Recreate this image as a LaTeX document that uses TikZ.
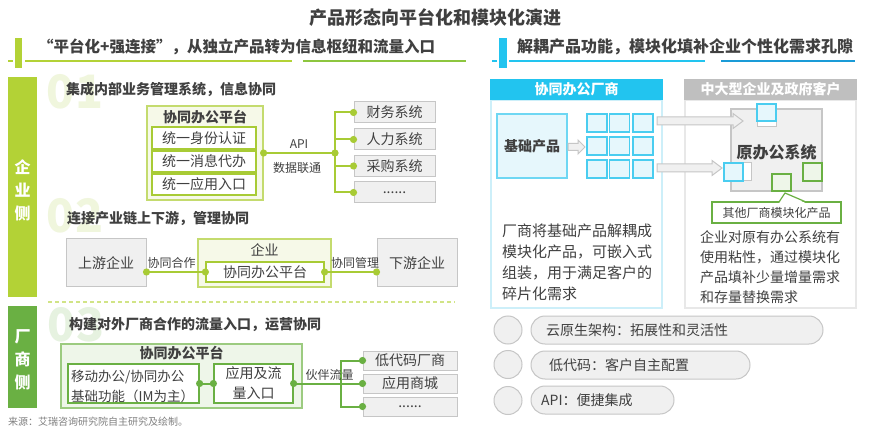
\documentclass[tikz,border=0pt]{standalone}
\usepackage{fontspec}
\setmainfont{Noto Sans CJK SC}
\usetikzlibrary{calc}
\definecolor{txt}{HTML}{404040}
\definecolor{ygreen}{HTML}{B3D236}
\definecolor{yline}{HTML}{A8CB35}
\definecolor{ylinedk}{HTML}{8DC63F}
\definecolor{ybord}{HTML}{C4DB6E}
\definecolor{ylight}{HTML}{F6F9E8}
\definecolor{dgreen}{HTML}{6AB043}
\definecolor{glight}{HTML}{EEF6E9}
\definecolor{gbord}{HTML}{9CCB80}
\definecolor{cyanc}{HTML}{22C4EF}
\definecolor{cyanl}{HTML}{E6F7FC}
\definecolor{cyanb}{HTML}{4ACDF0}
\definecolor{cyanpan}{HTML}{CDEFF9}
\definecolor{grayf}{HTML}{F0F0F0}
\definecolor{grayb}{HTML}{C6C6C6}
\definecolor{grayh}{HTML}{BFBFBF}
\definecolor{graypan}{HTML}{E8E8E8}
\definecolor{blued}{HTML}{1A9BD7}
\definecolor{numone}{HTML}{F0F6DD}
\definecolor{numthree}{HTML}{E6F2E0}
\definecolor{srcgray}{HTML}{808080}
\newcommand\fs[1]{\fontsize{#1}{#1}\selectfont}
\newcommand\blockarr[5]{% start, end, shaft half, head length, head half
  \draw[barrow] ($(#1)+(0,-#3)$) -- ($(#2)+(-#4,-#3)$) -- ($(#2)+(-#4,-#5)$) -- (#2)
   -- ($(#2)+(-#4,#5)$) -- ($(#2)+(-#4,#3)$) -- ($(#1)+(0,#3)$) -- cycle;}
\begin{document}
\begin{tikzpicture}[x=1pt,y=-1pt,
  every node/.style={inner sep=0pt, text=txt},
  gbox/.style={draw=grayb, fill=grayf, line width=1pt, font=\fs{14}},
  ybox/.style={draw=yline, fill=white, line width=1.2pt, font=\fs{14}},
  gnbox/.style={draw=dgreen, fill=white, line width=1.2pt},
  yl/.style={draw=yline, line width=2pt},
  gl/.style={draw=dgreen, line width=2pt},
  barrow/.style={draw=grayb, fill=grayf, line width=1pt},
  pill/.style={draw=grayb, fill=grayf, line width=1pt, rounded corners=14pt},
  cyansq/.style={draw=cyanb, fill=cyanl, line width=1.2pt},
  grnsq/.style={draw=dgreen, fill=glight, line width=1.2pt},
  numstyle/.style={font=\fs{46}\bfseries},
  lbl/.style={font=\fs{12}}
]
\useasboundingbox (0,0) rectangle (869,435);
\fill[white] (0,0) rectangle (869,435);

% ---------- title ----------
\node[font=\fs{18}\bfseries] (title) at (435,18) {产品形态向平台化和模块化演进};

% ---------- left sub heading ----------
\fill[ygreen] (15,38) rectangle (22,68);
\draw[ygreen, line width=2pt] (8,61) -- (13,61);
\draw[ygreen, line width=2pt] (25,61) -- (292,61);
\draw[ylinedk, line width=2pt] (303,61) -- (466,61);
\node[font=\fs{15.5}\bfseries, anchor=west] (subL) at (38,47) {“平台化+强连接”，从独立产品转为信息枢纽和流量入口};

% ---------- right sub heading ----------
\fill[cyanc] (499,38) rectangle (507,68);
\draw[cyanc, line width=2pt] (492,61) -- (497,61);
\draw[cyanc, line width=2pt] (509,61) -- (705,61);
\draw[blued, line width=2pt] (721,61) -- (855,61);
\node[font=\fs{16}\bfseries, anchor=west] (subR) at (517,47) {解耦产品功能，模块化填补企业个性化需求孔隙};

% ---------- side bars ----------
\node[fill=ygreen, minimum width=29pt, minimum height=220pt] (barE) at (22.5,187) {};
\node[font=\fontsize{16}{23}\selectfont\bfseries, text=white, align=center] (barEt) at (22.5,190) {企\\业\\侧};
\node[fill=dgreen, minimum width=29pt, minimum height=102pt] (barV) at (22.5,357) {};
\node[font=\fontsize{16}{23}\selectfont\bfseries, text=white, align=center] (barVt) at (22.5,360) {厂\\商\\侧};
\draw[ygreen!60, line width=1.5pt, dash pattern=on 4pt off 3pt] (48,302) -- (455,302);

% ---------- section 01 ----------
\node[numstyle, text=numone] (n01) at (75,92) {01};
\node[font=\fs{14}\bfseries, anchor=west] (h01) at (66,89) {集成内部业务管理系统，信息协同};
\node[draw=ybord, fill=ylight, line width=1.2pt, minimum width=116pt, minimum height=94pt] (plat01) at (205,153) {};
\node[font=\fs{14}\bfseries] (plat01t) at (205,117) {协同办公平台};
\node[ybox, minimum width=104pt, minimum height=22pt] (id1) at (204,138) {统一身份认证};
\node[ybox, minimum width=104pt, minimum height=21pt] (id2) at (204,161.5) {统一消息代办};
\node[ybox, minimum width=104pt, minimum height=21pt] (id3) at (204,184.5) {统一应用入口};
\node[gbox, minimum width=81pt, minimum height=21pt] (fin) at (394.5,112.5) {财务系统};
\node[gbox, minimum width=81pt, minimum height=21pt] (hr) at (394.5,139.5) {人力系统};
\node[gbox, minimum width=81pt, minimum height=21pt] (pur) at (394.5,166) {采购系统};
\node[gbox, minimum width=81pt, minimum height=21pt] (etc1) at (394.5,192.5) {......};
\node[lbl] (api) at (299,144) {API};
\node[lbl] (dl) at (297,168) {数据联通};
\coordinate (j1) at (335,153);
\draw[yl] (plat01.east) -- (j1);
\draw[yl] (fin.west) -| (j1) |- (etc1.west);
\draw[yl] (hr.west) -- (hr.west -| j1);
\draw[yl] (pur.west) -- (pur.west -| j1);
\foreach \p in {plat01.east, j1, fin.west, hr.west, pur.west, etc1.west}
  \fill[yline] (\p) circle[radius=3.6pt];

% ---------- section 02 ----------
\node[numstyle, text=numone] (n02) at (75,216) {02};
\node[font=\fs{14}\bfseries, anchor=west] (h02) at (67,219) {连接产业链上下游，管理协同};
\node[gbox, minimum width=80pt, minimum height=48pt] (up) at (106,263) {上游企业};
\node[draw=ybord, fill=ylight, line width=1.2pt, minimum width=133pt, minimum height=48pt] (ent) at (264.5,263) {};
\node[font=\fs{14}] (entt) at (264.5,250) {企业};
\node[ybox, minimum width=118pt, minimum height=20pt] (entp) at (265,272) {协同办公平台};
\node[gbox, minimum width=80pt, minimum height=48pt] (down) at (417,263) {下游企业};
\draw[yl] (up.east |- entp.west) -- (entp.west);
\draw[yl] (entp.east) -- (down.west |- entp.east);
\foreach \p in {up.east |- entp.west, entp.west, entp.east, down.west |- entp.east}
  \fill[yline] (\p) circle[radius=3.6pt];
\node[lbl] (coop) at (171.5,263) {协同合作};
\node[lbl] (mgmt) at (355,263) {协同管理};

% ---------- section 03 ----------
\node[numstyle, text=numthree] (n03) at (76,325) {03};
\node[font=\fs{14}\bfseries, anchor=west] (h03) at (69,325) {构建对外厂商合作的流量入口，运营协同};
\node[draw=gbord, fill=glight, line width=1.2pt, minimum width=241pt, minimum height=64pt] (plat03) at (181.5,376) {};
\node[font=\fs{14}\bfseries] (plat03t) at (181.5,353.5) {协同办公平台};
\node[gnbox, minimum width=131pt, minimum height=39pt] (m1) at (133.5,383.5) {};
\node[font=\fontsize{13.5}{20}\selectfont, align=left, anchor=west] (m1t) at (71,386) {移动办公/协同办公\\基础功能（IM为主）};
\node[gnbox, minimum width=79pt, minimum height=39pt, font=\fontsize{14}{20}\selectfont, align=center] (m2) at (253.5,383.5) {应用及流\\量入口};
\node[gbox, minimum width=94pt, minimum height=19pt] (v1) at (410,360.5) {低代码厂商};
\node[gbox, minimum width=94pt, minimum height=19pt] (v2) at (410,383.5) {应用商城};
\node[gbox, minimum width=94pt, minimum height=19pt] (v3) at (410,406.5) {......};
\coordinate (j3) at (341,383.5);
\draw[gl] (m1.east) -- (m2.west);
\draw[gl] (m2.east) -- (v2.west);
\draw[gl] (v1.west) -| (j3) |- (v3.west);
\foreach \p in {m1.east, m2.west, m2.east, v1.west, v2.west, v3.west}
  \fill[dgreen] (\p) circle[radius=3.6pt];
\node[lbl] (partner) at (329.5,375) {伙伴流量};
\node[font=\fs{10}, text=srcgray, anchor=west] (src) at (8,422) {来源：艾瑞咨询研究院自主研究及绘制。};

% ---------- right panel A ----------
\node[draw=cyanpan, line width=1.5pt, fill=white, minimum width=171pt, minimum height=208pt] (panA) at (576.5,204) {};
\node[fill=cyanc, minimum width=172.5pt, minimum height=21pt, text=white, font=\fs{14}\bfseries] (hdrA) at (576.5,89.5) {协同办公厂商};
\node[draw=cyanb!80, fill=cyanl, line width=1.2pt, minimum width=70pt, minimum height=64pt, font=\fs{14}\bfseries] (base) at (532,146) {基础产品};
\foreach \r/\yy in {1/123,2/146,3/169}
  \foreach \c/\xx in {1/597,2/619.75,3/643}
    \node[cyansq, minimum width=20pt, minimum height=18pt] (g\r\c) at (\xx,\yy) {};
\coordinate (sa1) at (568,147);
\coordinate (sa2) at (585,147);
\blockarr{sa1}{sa2}{3.5}{7}{7}
\node[font=\fontsize{15}{21}\selectfont, align=left, anchor=north west] (descA) at (502,224)
  {厂商将基础产品解耦成\\模块化产品，可嵌入式\\组装，用于满足客户的\\碎片化需求};

% ---------- right panel B ----------
\node[draw=graypan, line width=1.5pt, fill=white, minimum width=171pt, minimum height=208pt] (panB) at (770.5,204) {};
\node[fill=grayh, minimum width=172.5pt, minimum height=21pt, text=white, font=\fs{14}\bfseries] (hdrB) at (770.5,89.5) {中大型企业及政府客户};
\node[draw=grayb, fill=grayf, line width=1.2pt, minimum width=91pt, minimum height=82pt] (orig) at (776.5,150) {};
\node[font=\fs{16}\bfseries] (origt) at (776.5,152) {原办公系统};
\node[draw=grayb, fill=white, line width=1pt, minimum width=19pt, minimum height=23pt] (slotT) at (766.5,115.5) {};
\node[cyansq, minimum width=19pt, minimum height=17pt] (cT) at (766.5,112.5) {};
\node[draw=grayb, fill=white, line width=1pt, minimum width=27pt, minimum height=18pt] (slotL) at (737.5,172) {};
\node[cyansq, minimum width=19pt, minimum height=18pt] (cL) at (733.5,172) {};
\node[grnsq, minimum width=19pt, minimum height=18pt] (gR) at (812.5,172) {};
\node[grnsq, minimum width=19pt, minimum height=17pt] (gB) at (781.5,182.5) {};
\node[draw=dgreen, fill=white, line width=1.2pt, minimum width=129pt, minimum height=21pt, font=\fs{12}] (call) at (776.5,212.5) {其他厂商模块化产品};
\fill[white] (779,203.3) -- (785,193.5) -- (806,203.3) -- cycle;
\draw[dgreen, line width=1.2pt] (779,202) -- (785,193) -- (806,202);
\node[font=\fontsize{14}{20}\selectfont, align=left, anchor=north west] (descB) at (700,230.5)
  {企业对原有办公系统有\\使用粘性，通过模块化\\产品填补少量增量需求\\和存量替换需求};

% ---------- big arrows (on top of panels) ----------
\coordinate (ba1s) at (657,121);
\coordinate (ba1e) at (743,121);
\coordinate (ba2s) at (657,168);
\coordinate (ba2e) at (722,168);
\blockarr{ba1s}{ba1e}{4}{10}{7.5}
\blockarr{ba2s}{ba2e}{4}{10}{7.5}

% ---------- features ----------
\node[circle, draw=grayb, fill=grayf, line width=1pt, minimum size=28pt] (c1) at (508,330) {};
\node[circle, draw=grayb, fill=grayf, line width=1pt, minimum size=28pt] (c2) at (508,364.5) {};
\node[circle, draw=grayb, fill=grayf, line width=1pt, minimum size=28pt] (c3) at (508,400.5) {};
\node[pill, minimum width=292pt, minimum height=28pt] (p1) at (677,330) {};
\node[pill, minimum width=219pt, minimum height=28pt] (p2) at (640.5,365) {};
\node[pill, minimum width=143pt, minimum height=28pt] (p3) at (602.5,400) {};
\node[font=\fs{14}, anchor=west] (p1t) at (546,330) {云原生架构：拓展性和灵活性};
\node[font=\fs{14}, anchor=west] (p2t) at (549,365) {低代码：客户自主配置};
\node[font=\fs{14}, anchor=west] (p3t) at (541,400) {API：便捷集成};
\end{tikzpicture}
\end{document}
